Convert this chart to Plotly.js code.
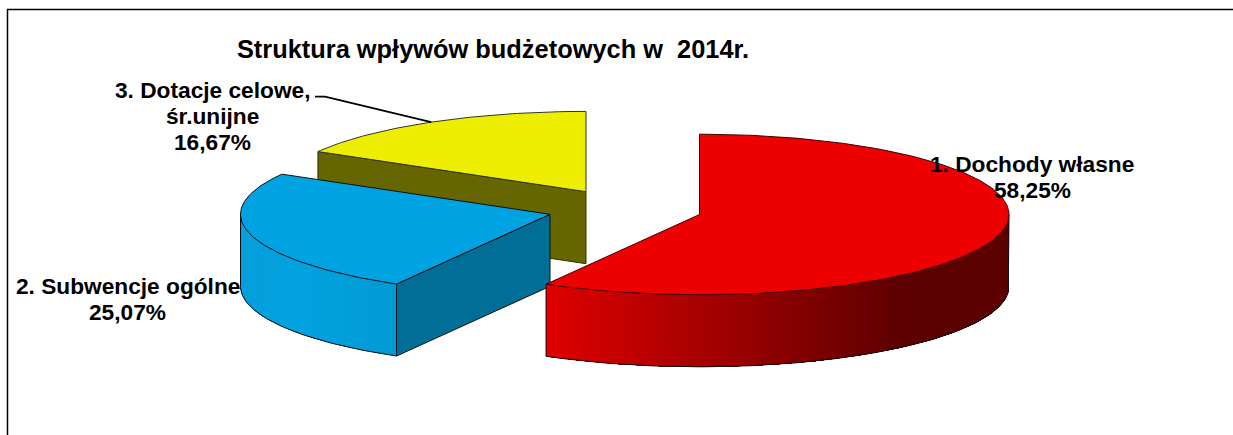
<!DOCTYPE html>
<html>
<head>
<meta charset="utf-8">
<script src="https://cdn.plot.ly/plotly-3.0.1.min.js"></script>
<style>html,body{margin:0;padding:0;background:#fff}#chart{width:1233px;height:435px}</style>
</head>
<body>
<div id="chart"></div>
<script>
// ---- data ----
const chartTitle = "Struktura wpływów budżetowych w \u00a02014r.";
const categories = ["1. Dochody własne", "2. Subwencje ogólne", "3. Dotacje celowe,<br>śr.unijne"];
const shares = [58.25, 25.07, 16.67];

// ---- styles and layout ----
const topColors = ["#EE0000", "#00A3E2", "#EEEE00"];
const faceColors = [null, "#006E96", "#666600"];
const apexes = [[699.5, 214.5], [550, 214.3], [586, 191.7]];
const RX = 309.5, RY = 80.3, DEPTH = 72;
const labelPos = [[1032, 164], [127.5, 286], [212, 90]];
const LINE_GAP = 26;

const total = shares.reduce((a, b) => a + b, 0);
let acc = 0;
const spans = shares.map(v => { const s = acc; acc += v / total * 360; return [s, acc]; });

const pt = (i, deg, dz = 0) => {
  const r = deg * Math.PI / 180;
  return [apexes[i][0] + RX * Math.sin(r), apexes[i][1] - RY * Math.cos(r) + dz];
};
const arc = (i, a, b, dz = 0, step = 1) => {
  const out = [], n = Math.max(1, Math.ceil(Math.abs(b - a) / step));
  for (let k = 0; k <= n; k++) out.push(pt(i, a + (b - a) * k / n, dz));
  return out;
};
const traces = [];
const poly = (pts, fill, lineColor, lineWidth = 1) => traces.push({
  type: "scatter", mode: "lines", x: pts.map(p => p[0]), y: pts.map(p => p[1]),
  fill: fill ? "toself" : "none", fillcolor: fill || undefined,
  line: { color: lineColor || "rgba(0,0,0,0)", width: lineColor ? lineWidth : 0 },
  hoverinfo: "skip", showlegend: false
});
const apexPt = (i, dz = 0) => [apexes[i][0], apexes[i][1] + dz];
const mix = (stops, x) => {
  let j = 0;
  while (j < stops.length - 2 && x > stops[j + 1][0]) j++;
  const [x0, c0] = stops[j], [x1, c1] = stops[j + 1];
  const t = Math.min(1, Math.max(0, (x - x0) / (x1 - x0)));
  return "rgb(" + c0.map((c, n) => Math.round(c + (c1[n] - c) * t)).join(",") + ")";
};
// painter's strips: each strip covers everything from its start to the end of the side,
// so no seams can appear between neighbouring strips
const sideStrips = (i, a, b, stops, step) => {
  for (let d = a; d < b; d += step) {
    const top = arc(i, d, b, 0, 1), bottom = arc(i, b, d, DEPTH, 1);
    poly(top.concat(bottom), mix(stops, pt(i, Math.min(b, d + step / 2))[0]));
  }
};
const edge = "#101010";

// yellow slice: cut face, then top
{
  const i = 2, [a, b] = spans[i];
  poly([pt(i, a), apexPt(i), apexPt(i, DEPTH), pt(i, a, DEPTH), pt(i, a)], faceColors[i], "#333300");
  poly([apexPt(i)].concat(arc(i, a, b)).concat([apexPt(i)]), topColors[i], "#333");
}
// blue slice: curved side, cut face, top (the side is swept from its near end to the left rim)
{
  const i = 1, [a, b] = spans[i];
  sideStrips(i, a, 270, [[241, [8, 158, 220]], [300, [2, 162, 224]], [397, [0, 154, 212]]], 1.5);
  poly(arc(i, a, 270, DEPTH).concat([pt(i, 270)]), null, edge);
  poly([pt(i, a), apexPt(i), apexPt(i, DEPTH), pt(i, a, DEPTH), pt(i, a)], faceColors[i], edge);
  poly([apexPt(i)].concat(arc(i, a, b)).concat([apexPt(i)]), topColors[i], edge);
}
// red slice: curved side, top
{
  const i = 0, [a, b] = spans[i];
  sideStrips(i, 90, b, [[546, [224, 0, 0]], [905, [92, 0, 0]], [1010, [92, 0, 0]]], 1);
  poly([pt(i, 90)].concat(arc(i, 90, b, DEPTH)).concat([pt(i, b)]), null, edge);
  poly([apexPt(i)].concat(arc(i, a, b)).concat([apexPt(i)]), topColors[i], "#400000");
}
// frame and leader line
const midY = (spans[2][0] + spans[2][1]) / 2;
poly([[7.5, 435], [7.5, 9.5], [1233, 9.5]], null, "#000", 1.5);
poly([[315, 96.7], [325, 96.7], pt(2, midY)], null, "#000", 1.7);

const pct = v => v.toFixed(2).replace(".", ",") + "%";
const labelFont = { family: "Liberation Sans, Arial, sans-serif", size: 22.7, color: "#000" };
const titleFont = { family: "Liberation Sans, Arial, sans-serif", size: 25.4, color: "#000" };
const annotations = categories.flatMap((c, i) =>
  c.split("<br>").concat([pct(shares[i])]).map((line, k) => ({
    xref: "x", yref: "y", x: labelPos[i][0], y: labelPos[i][1] + k * LINE_GAP,
    text: "<b>" + line + "</b>", showarrow: false,
    font: labelFont, align: "center", xanchor: "center", yanchor: "middle"
  })));

Plotly.newPlot("chart", traces, {
  width: 1233, height: 435,
  margin: { l: 0, r: 0, t: 0, b: 0 },
  paper_bgcolor: "#fff", plot_bgcolor: "#fff",
  title: { text: "<b>" + chartTitle + "</b>", font: titleFont, x: 493 / 1233, xanchor: "center", y: 1 - 49 / 435, yanchor: "middle" },
  xaxis: { range: [0, 1233], visible: false, fixedrange: true },
  yaxis: { range: [435, 0], visible: false, fixedrange: true },
  showlegend: false, annotations
}, { displayModeBar: false, staticPlot: true });
</script>
</body>
</html>
